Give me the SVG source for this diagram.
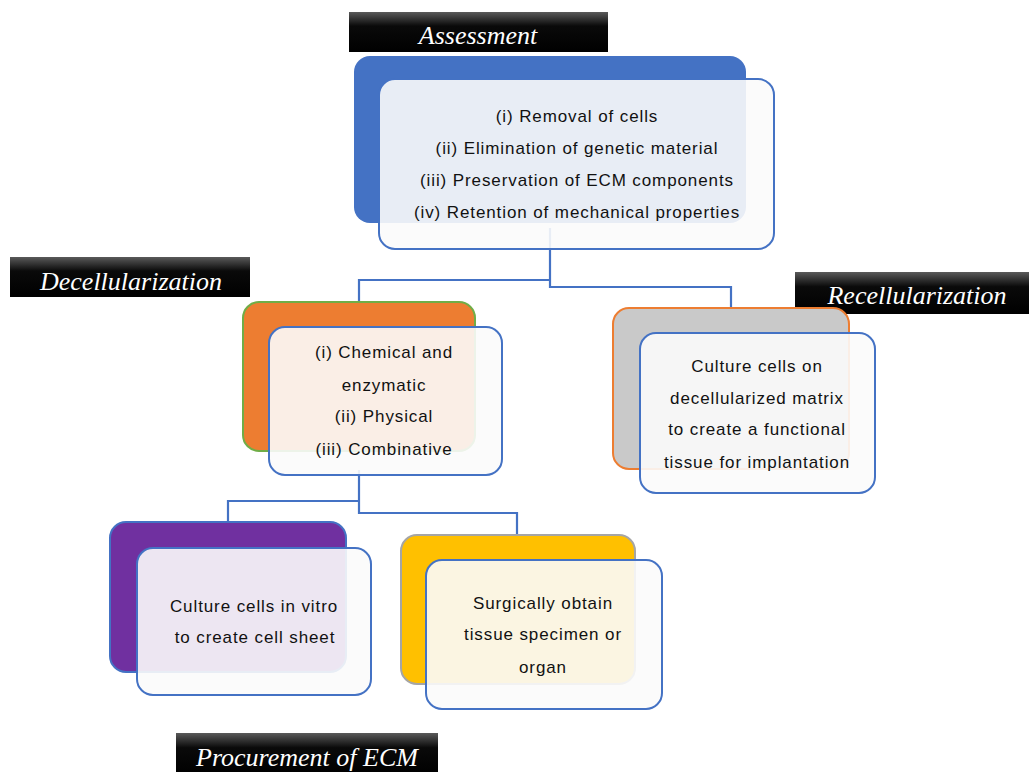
<svg xmlns="http://www.w3.org/2000/svg" width="1029" height="772" viewBox="0 0 1029 772">
<defs>
<linearGradient id="lab" x1="0" y1="0" x2="0" y2="1">
<stop offset="0" stop-color="#5a5a5a"/>
<stop offset="0.35" stop-color="#0a0a0a"/>
<stop offset="1" stop-color="#000"/>
</linearGradient>
<style>
.lab{fill:url(#lab);}
.labt{font-family:"Liberation Serif","Times New Roman",serif;font-style:italic;font-size:26px;fill:#fff;text-anchor:middle;}
.front{fill:#fbfbfb;fill-opacity:0.9;stroke:#4472c4;stroke-width:2;}
.t{font-family:"Liberation Sans",Arial,sans-serif;font-size:17px;letter-spacing:0.9px;fill:#111;text-anchor:middle;}
.conn{fill:none;stroke:#4472c4;stroke-width:2.2;}
</style>
</defs>
<rect width="1029" height="772" fill="#fff"/>

<g id="connectors">
<path class="conn" d="M550,228 V287 H731 V308"/>
<path class="conn" d="M550,280 H359 V302"/>
<path class="conn" d="M359,470 V513 H517 V535"/>
<path class="conn" d="M359,501 H228 V522"/>
</g>

<g id="assessment">
<rect class="lab" x="349" y="12" width="259" height="40"/>
<text class="labt" x="478" y="44">Assessment</text>
<rect x="354" y="56" width="392" height="167" rx="16" fill="#4472c4"/>
<rect class="front" x="379" y="79" width="395" height="170" rx="16"/>
<text class="t" x="577" y="122">(i) Removal of cells</text>
<text class="t" x="577" y="154">(ii) Elimination of genetic material</text>
<text class="t" x="577" y="186">(iii) Preservation of ECM components</text>
<text class="t" x="577" y="218">(iv) Retention of mechanical properties</text>
</g>

<g id="decellularization">
<rect class="lab" x="10" y="257" width="240" height="40"/>
<text class="labt" x="131" y="290">Decellularization</text>
<rect x="243" y="302" width="232" height="149" rx="16" fill="#ed7d31" stroke="#70ad47" stroke-width="2"/>
<rect class="front" x="269" y="327" width="233" height="148" rx="16"/>
<text class="t" x="384" y="358">(i) Chemical and</text>
<text class="t" x="384" y="391">enzymatic</text>
<text class="t" x="384" y="422">(ii) Physical</text>
<text class="t" x="384" y="455">(iii) Combinative</text>
</g>

<g id="recellularization">
<rect class="lab" x="795" y="272" width="234" height="42"/>
<text class="labt" x="917" y="304">Recellularization</text>
<rect x="613" y="308" width="236" height="161" rx="16" fill="#c9c9c9" stroke="#ed7d31" stroke-width="2"/>
<rect class="front" x="640" y="333" width="235" height="160" rx="16"/>
<text class="t" x="757" y="372">Culture cells on</text>
<text class="t" x="757" y="404">decellularized matrix</text>
<text class="t" x="757" y="435">to create a functional</text>
<text class="t" x="757" y="468">tissue for implantation</text>
</g>

<g id="cellsheet">
<rect x="110" y="522" width="236" height="150" rx="16" fill="#7030a0" stroke="#4472c4" stroke-width="2"/>
<rect class="front" x="137" y="548" width="234" height="147" rx="16"/>
<text class="t" x="254" y="612">Culture cells in vitro</text>
<text class="t" x="255" y="643">to create cell sheet</text>
</g>

<g id="tissue">
<rect x="401" y="535" width="234" height="149" rx="16" fill="#ffc000" stroke="#a5a5a5" stroke-width="2"/>
<rect class="front" x="426" y="560" width="236" height="149" rx="16"/>
<text class="t" x="543" y="609">Surgically obtain</text>
<text class="t" x="543" y="640">tissue specimen or</text>
<text class="t" x="543" y="673">organ</text>
</g>

<g id="procurement">
<rect class="lab" x="176" y="733" width="262" height="42"/>
<text class="labt" x="307" y="766">Procurement of ECM</text>
</g>
</svg>
